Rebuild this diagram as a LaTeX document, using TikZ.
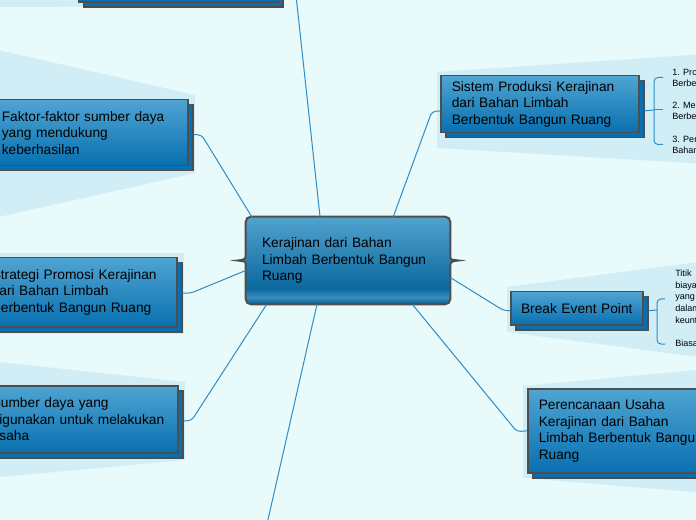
\documentclass[tikz,border=0pt]{standalone}
\usepackage{fontspec}
\setmainfont{Liberation Sans}
\usetikzlibrary{positioning,calc,shadows,backgrounds}
\definecolor{bgcol}{HTML}{E9FAFB}
\definecolor{fancol}{HTML}{D1EEF7}
\definecolor{linecol}{HTML}{2E8CC6}
\definecolor{boxtop}{HTML}{4FA4D2}
\definecolor{boxbot}{HTML}{0870B0}
\definecolor{boxedge}{HTML}{4E4E4E}
\definecolor{maintop}{HTML}{52A2CE}
\definecolor{mainmid}{HTML}{0A699F}
\definecolor{mainband}{HTML}{3A8CBE}
\definecolor{mainbot}{HTML}{0B5D8E}
\newdimen\px \px=0.75pt
\pgfdeclareverticalshading{mainshade}{100bp}{color(0bp)=(mainbot); color(25bp)=(mainbot); color(29bp)=(mainband); color(34bp)=(mainmid); color(75bp)=(maintop); color(100bp)=(maintop)}
\begin{document}
\begin{tikzpicture}[x=0.75pt, y=-0.75pt,
  topic/.style={draw=boxedge, line width=1.5\px, top color=boxtop, bottom color=boxbot,
    inner xsep=11\px, inner ysep=0pt, align=left, font=\fontsize{10.3}{12.4}\selectfont,
    general shadow={fill=boxbot, draw=boxedge, line width=1.5\px, shadow xshift=5\px, shadow yshift=-5\px}},
  leaf/.style={inner sep=0pt, align=left, anchor=west, font=\fontsize{6.8}{8.5}\selectfont},
  conn/.style={draw=linecol, line width=1\px, rounded corners=4\px},
  fan/.style={fill=fancol}]
  \useasboundingbox (0,0) rectangle (696,520);

  % topics
  \node[topic, anchor=south west, minimum width=199\px, minimum height=60\px, text width=177\px] (atas) at (78,3) {};
  \node[topic, anchor=north west, minimum width=197\px, minimum height=66\px, text width=175\px] (faktor) at (-10,99)
    {Faktor-faktor sumber daya\\yang mendukung\\keberhasilan};
  \node[topic, anchor=north west, minimum width=196\px, minimum height=69\px, text width=174\px] (strategi) at (-20,257)
    {Strategi Promosi Kerajinan\\dari Bahan Limbah\\Berbentuk Bangun Ruang};
  \node[topic, anchor=north west, minimum width=197\px, minimum height=67\px, text width=175\px] (sumber) at (-20,385)
    {Sumber daya yang\\digunakan untuk melakukan\\usaha};
  \node[topic, anchor=north west, minimum width=198\px, minimum height=57\px, text width=176\px] (sistem) at (440,75)
    {Sistem Produksi Kerajinan\\dari Bahan Limbah\\Berbentuk Bangun Ruang};
  \node[topic, anchor=north west, minimum width=132\px, minimum height=33\px, inner xsep=6\px, text width=120\px, align=center] (bep) at (510,291)
    {Break Event Point};
  \node[topic, anchor=north west, minimum width=198\px, minimum height=84\px, text width=176\px] (rencana) at (527,388)
    {Perencanaan Usaha\\Kerajinan dari Bahan\\Limbah Berbentuk Bangun\\Ruang};

  % central
  \node[align=left, text width=172\px, minimum width=204\px, minimum height=87\px, inner xsep=16\px,
    font=\fontsize{10.3}{12.4}\selectfont] (main) at (348,260.5)
    {Kerajinan dari Bahan\\Limbah Berbentuk Bangun\\Ruang};

  % leaves
  \node[leaf] (s1) at (672,77.5) {1. Produksi\\Berbentuk};
  \node[leaf] (s2) at (672,110.5) {2. Membuat\\Berbentuk};
  \node[leaf] (s3) at (672,144.5) {3. Persiapan\\Bahan};
  \node[leaf, font=\fontsize{6.8}{8.8}\selectfont] (d1) at (675,297.5) {Titik\\biaya\\yang\\dalam\\keuntungan};
  \node[leaf] (d2) at (675,344) {Biasanya};

  % connectors
  \coordinate (bawah) at (262,546);
  \draw[conn] ($(main.north west)+(6,0)$) -- ($(faktor.east)+(13,2)$) -- ($(faktor.east)+(5,2)$);
  \draw[conn] ($(main.west)+(0,10)$) -- ($(strategi.east)+(13,1)$) -- ($(strategi.east)+(5,1)$);
  \draw[conn] ($(main.south west)+(21,0)$) -- ($(sumber.east)+(13,1.5)$) -- ($(sumber.east)+(5,1.5)$);
  \draw[conn] ($(main.north)+(-28,0)$) -- ($(atas.east)+(15,0)$) -- ($(atas.east)+(5,0)$);
  \draw[conn] ($(main.north east)+(-57,0)$) -- ($(sistem.west)+(-8,7)$) -- ($(sistem.west)+(0,7)$);
  \draw[conn] ($(main.east)+(0,17)$) -- ($(bep.west)+(-6,2.5)$) -- ($(bep.west)+(0,2.5)$);
  \draw[conn] ($(main.south east)+(-38,0)$) -- ($(rencana.west)+(-10,1)$) -- (rencana.west);
  \draw[conn] ($(main.south)+(-31,0)$) -- (bawah);

  % brackets
  \coordinate (sj) at (654,110);
  \draw[conn] ($(sistem.east)+(5,6.5)$) -- (sj);
  \draw[conn] ($(s1.west)+(-9,0)$) -| (sj) |- ($(s3.west)+(-9,0)$);
  \draw[conn] (sj) -- ($(s2.west)+(-9,-0.5)$);
  \coordinate (dj) at (657,310);
  \draw[conn] ($(bep.east)+(5,2.5)$) -- (dj);
  \draw[conn] ($(d1.west)+(-10,1.5)$) -| (dj) |- ($(d2.west)+(-10,0)$);

  \begin{pgfonlayer}{background}
    \fill[bgcol] (0,0) rectangle (696,520);
    % fans
    \fill[fan] (284,-80) -- (284,6) -- (-10,7) -- (-10,-80) -- cycle;
    \fill[fan] (195,95) -- (195,173) -- (-10,219) -- (-10,48) -- cycle;
    \fill[fan] (184,253) -- (184,334) -- (-10,334) -- (-10,253) -- cycle;
    \fill[fan] (185,382) -- (185,460) -- (-10,478) -- (-10,361) -- cycle;
    \fill[fan] (437,72) -- (437,148) -- (706,164) -- (706,54) -- cycle;
    \fill[fan] (507,287) -- (507,332) -- (706,358) -- (706,261) -- cycle;
    \fill[fan] (523,386) -- (523,478) -- (706,493) -- (706,369) -- cycle;
    % central shape
    \path[shading=mainshade, draw=boxedge, line width=2\px, rounded corners=5\px]
      (main.north west) -- (main.north east) -- ($(main.east)+(0,-8)$)
      [sharp corners] .. controls ($(main.east)+(0,-1)$) .. ($(main.east)+(8,0)$)
      .. controls ($(main.east)+(0,1)$) .. ($(main.east)+(0,8)$)
      [rounded corners=5\px] -- (main.south east) -- (main.south west) -- ($(main.west)+(0,8)$)
      [sharp corners] .. controls ($(main.west)+(0,1)$) .. ($(main.west)+(-8,0)$)
      .. controls ($(main.west)+(0,-1)$) .. ($(main.west)+(0,-8)$)
      [rounded corners=5\px] -- cycle;
  \end{pgfonlayer}
\end{tikzpicture}
\end{document}
